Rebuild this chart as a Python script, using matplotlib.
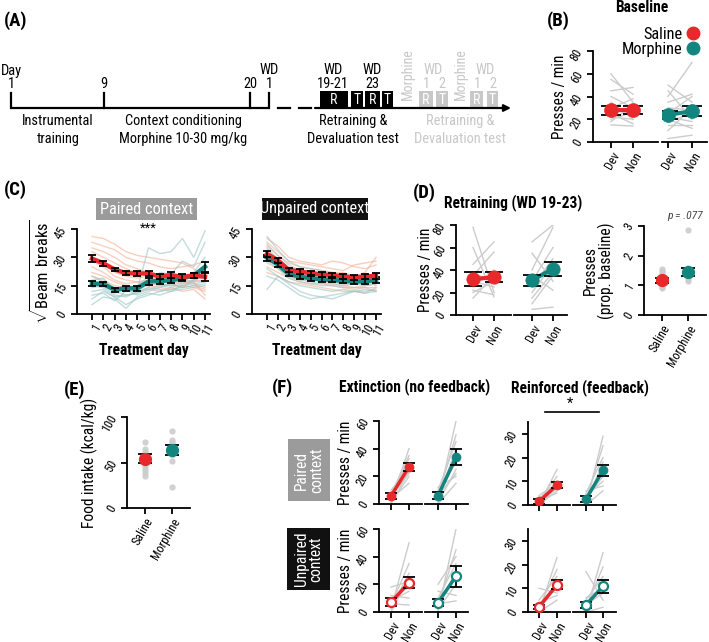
import matplotlib
matplotlib.use('Agg')
import matplotlib.pyplot as plt
from matplotlib import font_manager as fm
from matplotlib.patches import Rectangle
from matplotlib.lines import Line2D
import numpy as np


def has_font(name):
    try:
        fm.findfont(fm.FontProperties(family=name), fallback_to_default=False)
        return True
    except Exception:
        return False


FONT, S = 'Liberation Sans', 1.0
for cand in ['Liberation Sans Narrow', 'Arial Narrow', 'Roboto Condensed', 'Archivo Narrow']:
    if has_font(cand):
        FONT, S = cand, 1.18
        break

plt.rcParams['font.family'] = [FONT, 'Liberation Sans', 'DejaVu Sans']
plt.rcParams['mathtext.fontset'] = 'custom'
plt.rcParams['mathtext.rm'] = FONT
plt.rcParams['mathtext.bf'] = FONT + ':bold'
plt.rcParams['axes.linewidth'] = 1.3


def F(x):
    return x * S


RED = '#E8282B'
TEAL = '#13857F'
GREY = '#cccccc'
SALMON = '#f3a98c'
LTEAL = '#9cc5c6'

# ---------------- DATA ----------------
conds = ['Dev', 'Non']
groups = ['Saline', 'Morphine']

# (B) Baseline presses/min
b_sal_mean = [28, 28]
b_sal_sem = [4, 3.5]
b_mor_mean = [24, 27]
b_mor_sem = [3.5, 4.5]
b_sal_dev = [60, 55, 45, 40, 35, 30, 28, 25, 20, 15, 22, 18]
b_sal_non = [35, 42, 48, 30, 20, 38, 25, 16, 26, 14, 20, 32]
b_mor_dev = [50, 45, 40, 35, 30, 25, 22, 18, 15, 10, 3, 20]
b_mor_non = [35, 20, 70, 42, 28, 40, 18, 25, 15, 30, 6, 12]

# (C) Beam breaks (sqrt) over treatment days
days = list(range(1, 12))
c_pair_sal_mean = [29.3, 26.8, 23.6, 21.6, 21.5, 21.4, 19.9, 20.6, 19.6, 20.4, 19.7]
c_pair_sal_sem = [1.8, 1.5, 1.0, 1.2, 1.2, 1.3, 1.5, 1.4, 1.5, 1.2, 2.0]
c_pair_mor_mean = [16.2, 15.8, 12.9, 13.6, 13.6, 17.2, 17.5, 17.8, 19.0, 20.3, 25.0]
c_pair_mor_sem = [1.5, 1.2, 1.0, 1.2, 1.2, 1.8, 1.5, 1.5, 1.5, 1.3, 2.5]
c_unp_sal_mean = [31.8, 28.4, 23.4, 22.5, 21.6, 21.0, 20.6, 19.8, 19.4, 19.8, 20.2]
c_unp_sal_sem = [1.6, 1.4, 1.2, 1.2, 1.2, 1.2, 1.2, 1.2, 1.2, 1.2, 1.5]
c_unp_mor_mean = [29.8, 26.2, 21.2, 19.8, 18.9, 18.4, 18.0, 17.6, 17.2, 17.3, 18.0]
c_unp_mor_sem = [1.6, 1.5, 1.3, 1.3, 1.3, 1.3, 1.3, 1.3, 1.3, 1.3, 1.5]
c_pair_sal_ind = [
    [41, 40, 37, 33, 31, 30, 29, 28, 27, 24, 20],
    [38, 36, 34, 30, 28, 27, 25, 24, 25, 26, 28],
    [35, 33, 30, 26, 24, 22, 20, 18, 17, 16, 14],
    [33, 30, 27, 24, 22, 20, 21, 19, 18, 17, 10],
    [30, 28, 22, 20, 19, 20, 18, 17, 16, 18, 17],
    [28, 25, 20, 18, 17, 18, 16, 15, 15, 17, 22],
    [25, 22, 18, 16, 17, 16, 15, 16, 14, 15, 13],
    [22, 20, 17, 15, 14, 15, 14, 13, 15, 14, 12],
    [20, 18, 15, 14, 12, 13, 12, 14, 12, 13, 8],
]
c_pair_mor_ind = [
    [20, 17, 14, 12, 13, 35, 32, 33, 40, 30, 44],
    [18, 19, 12, 10, 11, 14, 22, 21, 28, 25, 38],
    [17, 16, 13, 14, 15, 20, 18, 20, 19, 22, 30],
    [15, 14, 10, 9, 12, 16, 16, 15, 17, 18, 25],
    [14, 15, 11, 13, 10, 12, 14, 16, 14, 18, 20],
    [12, 13, 9, 10, 11, 13, 15, 14, 16, 17, 18],
    [10, 11, 7, 12, 12, 14, 13, 12, 15, 16, 17],
    [8, 12, 9, 5, 8, 10, 12, 13, 14, 15, 16],
    [5, 9, 8, 3, 9, 11, 10, 12, 13, 14, 15],
]
c_unp_sal_ind = [
    [40, 36, 30, 28, 27, 26, 28, 27, 25, 24, 26],
    [38, 33, 28, 27, 26, 25, 24, 23, 26, 27, 28],
    [36, 31, 27, 25, 24, 23, 22, 22, 20, 22, 30],
    [34, 29, 24, 22, 23, 21, 20, 20, 19, 18, 20],
    [32, 27, 23, 21, 20, 20, 18, 18, 17, 19, 18],
    [30, 26, 22, 20, 19, 19, 17, 16, 16, 17, 15],
    [27, 24, 20, 18, 18, 17, 16, 15, 14, 15, 16],
    [25, 22, 19, 17, 16, 16, 15, 14, 13, 14, 12],
    [22, 20, 17, 16, 15, 14, 13, 12, 12, 11, 14],
]
c_unp_mor_ind = [
    [41, 34, 28, 25, 24, 23, 22, 21, 20, 20, 21],
    [37, 31, 26, 23, 22, 21, 20, 19, 18, 19, 20],
    [35, 29, 24, 21, 20, 19, 19, 18, 17, 17, 18],
    [32, 28, 22, 20, 18, 18, 17, 16, 16, 16, 17],
    [30, 26, 20, 18, 17, 16, 16, 15, 16, 15, 16],
    [28, 24, 19, 17, 16, 15, 15, 14, 14, 14, 14],
    [13, 20, 17, 15, 14, 13, 12, 13, 12, 13, 12],
    [24, 20, 16, 12, 10, 9, 10, 11, 12, 12, 13],
    [20, 18, 14, 10, 8, 9, 8, 10, 12, 11, 12],
]

# (D) Retraining presses/min
d_sal_mean = [32, 33.5]
d_sal_sem = [6, 4.5]
d_mor_mean = [31, 41]
d_mor_sem = [5, 6.5]
d_sal_dev = [78, 60, 45, 35, 30, 25, 20, 15, 22, 38]
d_sal_non = [20, 16, 65, 56, 25, 40, 30, 35, 18, 28]
d_mor_dev = [65, 55, 40, 30, 25, 20, 10, 5, 35, 15]
d_mor_non = [80, 30, 78, 60, 50, 45, 35, 7, 22, 38]
# (D) proportion of baseline
d_prop_mean = [1.17, 1.45]
d_prop_sem = [0.08, 0.12]
d_prop_sal = [0.9, 0.95, 1.0, 1.05, 1.1, 1.15, 1.2, 1.25, 1.3, 1.4, 1.5, 1.55]
d_prop_mor = [1.15, 1.2, 1.3, 1.35, 1.4, 1.45, 1.5, 1.6, 2.85]

# (E) Food intake
e_mean = [54, 64]
e_sem = [5, 5.5]
e_sal = [35, 38, 42, 45, 48, 50, 52, 55, 58, 62, 65, 72]
e_mor = [23, 52, 58, 62, 65, 68, 70, 72, 75, 85]

# (F) Devaluation tests: (means [Dev, Non], sems [Dev, Non])
f_ext_pair_sal = ([5.8, 26.8], [2.5, 2.6])
f_ext_pair_mor = ([6.0, 33.8], [2.5, 5.6])
f_rei_pair_sal = ([1.5, 8.4], [1.0, 1.4])
f_rei_pair_mor = ([2.5, 14.6], [1.3, 2.4])
f_ext_unp_sal = ([7.0, 21.3], [3.0, 4.0])
f_ext_unp_mor = ([6.8, 25.8], [2.7, 7.6])
f_rei_unp_sal = ([2.1, 11.5], [0.9, 1.9])
f_rei_unp_mor = ([3.0, 10.8], [1.4, 2.7])

f_ext_pair_sal_ind = ([2, 5, 8, 3, 10, 6, 1, 4, 0, 7], [40, 33, 30, 28, 25, 22, 20, 15, 24, 35])
f_ext_pair_mor_ind = ([2, 5, 10, 3, 8, 6, 1, 4, 12, 0], [60, 50, 45, 38, 30, 22, 25, 40, 20, 15])
f_rei_pair_sal_ind = ([0, 2, 1, 3, 0, 4, 1, 2], [15, 12, 10, 8, 6, 9, 7, 5])
f_rei_pair_mor_ind = ([0, 2, 5, 1, 3, 4, 2, 0, 6], [29, 25, 20, 18, 12, 10, 14, 6, 8])
f_ext_unp_sal_ind = ([2, 5, 18, 10, 8, 3, 12, 0, 6], [50, 35, 22, 18, 15, 28, 10, 25, 5])
f_ext_unp_mor_ind = ([0, 5, 20, 10, 8, 3, 15, 2, 6], [60, 45, 40, 35, 25, 30, 12, 20, 8])
f_rei_unp_sal_ind = ([0, 2, 10, 5, 1, 3, 0, 4], [23, 18, 8, 15, 12, 10, 5, 7])
f_rei_unp_mor_ind = ([0, 17, 2, 5, 1, 3, 0, 6], [25, 5, 19, 15, 12, 8, 2, 10])

# ---------------- LAYOUT ----------------
W, H = 709, 642
fig = plt.figure(figsize=(W / 100, H / 100), dpi=100)

TICK_FS = F(7.5)
LAB_FS = F(9.5)


def rect(x0, x1, ytop, ybot):
    return [x0 / W, 1 - ybot / H, (x1 - x0) / W, (ybot - ytop) / H]


def xlim_from(x0, x1, p0, p1, v0=0, v1=1):
    s = (p1 - p0) / (v1 - v0)
    return (v0 - (p0 - x0) / s, v0 + (x1 - p0) / s)


def style(ax, left=True, ylim=None, yticks=None):
    for s in ['top', 'right']:
        ax.spines[s].set_visible(False)
    ax.patch.set_alpha(0)
    ax.tick_params(direction='out', length=4, width=1.3, labelsize=TICK_FS, pad=1.5)
    ax.tick_params(axis='y', labelrotation=60)
    if ylim is not None:
        ax.set_ylim(*ylim)
        ax.spines['left'].set_bounds(*ylim)
    if yticks is not None:
        ax.set_yticks(yticks)
    if not left:
        ax.spines['left'].set_visible(False)
        ax.tick_params(axis='y', left=False, labelleft=False)


def xrot(ax, labels, show=True):
    ax.set_xticks(range(len(labels)))
    if show:
        ax.set_xticklabels(labels, rotation=60, ha='right', rotation_mode='anchor', fontsize=TICK_FS)
    else:
        ax.set_xticklabels([])


def ylab(ax, text, x_px, axrect_px, fs=None):
    x0, x1 = axrect_px
    ax.set_ylabel(text, fontsize=fs or LAB_FS, linespacing=1.0)
    ax.yaxis.set_label_coords((x_px - x0) / (x1 - x0), 0.5)


def paired(ax, dev, non, mean, sem, color, ms, cap, open_=False, lw=3):
    for d, n in zip(dev, non):
        ax.plot([0, 1], [d, n], color=GREY, lw=1, zorder=1)
    ax.plot([0, 1], mean, color=color, lw=lw, zorder=2, solid_capstyle='butt')
    ax.errorbar([0, 1], mean, yerr=sem, fmt='none', ecolor='black', elinewidth=1.3,
                capsize=cap, capthick=1.3, zorder=3)
    ax.plot([0, 1], mean, 'o', ms=ms, mfc='white' if open_ else color, mec=color,
            mew=1.6 if open_ else 0.5, zorder=4)


def scatter_group(ax, vals_list, means, sems, ms=8.5, cap=4.8):
    for i, vals in enumerate(vals_list):
        ax.plot([i] * len(vals), vals, 'o', color=GREY, ms=4.5, alpha=0.9, mew=0, zorder=1)
    ax.errorbar([0, 1], means, yerr=sems, fmt='none', ecolor='black', elinewidth=1.3,
                capsize=cap, capthick=1.3, zorder=3)
    for i, c in enumerate([RED, TEAL]):
        ax.plot([i], [means[i]], 'o', ms=ms, color=c, zorder=4)


# ---- (B) ----
bL = (593, 658); bR = (662, 707)
axB1 = fig.add_axes(rect(bL[0], bL[1], 51, 142))
axB2 = fig.add_axes(rect(bR[0], bR[1], 51, 142))
paired(axB1, b_sal_dev, b_sal_non, b_sal_mean, b_sal_sem, RED, 10, 7)
paired(axB2, b_mor_dev, b_mor_non, b_mor_mean, b_mor_sem, TEAL, 10, 7)
style(axB1, True, (0, 80), [0, 20, 40, 60, 80])
style(axB2, False, (0, 80))
axB1.set_xlim(*xlim_from(bL[0], bL[1], 611, 633))
axB2.set_xlim(*xlim_from(bR[0], bR[1], 668, 692))
xrot(axB1, conds); xrot(axB2, conds)
ylab(axB1, 'Presses / min', 567, bL)
fig.legend(handles=[Line2D([], [], ls='none', marker='o', ms=9, color=RED),
                    Line2D([], [], ls='none', marker='o', ms=9, color=TEAL)],
           labels=groups, markerfirst=False, frameon=False, fontsize=F(10),
           loc='upper right', bbox_to_anchor=(1.0, 1 - 19 / H), handletextpad=0.1,
           labelspacing=0.0, borderpad=0, handlelength=1.0)

# ---- (C) ----
cL = (77, 210); cR = (252, 381)
axC1 = fig.add_axes(rect(cL[0], cL[1], 229, 314))
axC2 = fig.add_axes(rect(cR[0], cR[1], 229, 314))
for ax, sal_ind, mor_ind, sm, ss, mm, msem, xr, p in [
        (axC1, c_pair_sal_ind, c_pair_mor_ind, c_pair_sal_mean, c_pair_sal_sem,
         c_pair_mor_mean, c_pair_mor_sem, cL, (92, 205)),
        (axC2, c_unp_sal_ind, c_unp_mor_ind, c_unp_sal_mean, c_unp_sal_sem,
         c_unp_mor_mean, c_unp_mor_sem, cR, (267, 376))]:
    for row in sal_ind:
        ax.plot(days, row, color=SALMON, lw=1, alpha=0.55, zorder=1)
    for row in mor_ind:
        ax.plot(days, row, color=LTEAL, lw=1, alpha=0.6, zorder=1)
    ax.plot(days, mm, color=TEAL, lw=3.2, zorder=2)
    ax.errorbar(days, mm, yerr=msem, fmt='none', ecolor='black', elinewidth=1.1,
                capsize=3.2, capthick=1.3, zorder=3)
    ax.plot(days, sm, color=RED, lw=3.2, zorder=4)
    ax.errorbar(days, sm, yerr=ss, fmt='none', ecolor='black', elinewidth=1.1,
                capsize=3.2, capthick=1.3, zorder=5)
    style(ax, True, (0, 45), [0, 15, 30, 45])
    ax.set_xlim(*xlim_from(xr[0], xr[1], p[0], p[1], 1, 11))
    ax.set_xticks(days)
    ax.set_xticklabels([str(d) for d in days], rotation=60, ha='right',
                       rotation_mode='anchor', fontsize=TICK_FS)
    ax.set_xlabel('Treatment day', fontsize=LAB_FS, fontweight='bold')
    ax.xaxis.set_label_coords(0.5, -(343 - 314) / 85)
axC1.text(6, 45.5, '***', ha='center', va='center', fontsize=F(8))
ylab(axC1, r'$\sqrt{\mathrm{Beam\ breaks}}$', 52, cL, fs=F(10))

# ---- (D) ----
dL = (456, 511); dR = (514, 567)
axD1 = fig.add_axes(rect(dL[0], dL[1], 225, 315))
axD2 = fig.add_axes(rect(dR[0], dR[1], 225, 315))
paired(axD1, d_sal_dev, d_sal_non, d_sal_mean, d_sal_sem, RED, 9.6, 6.2)
paired(axD2, d_mor_dev, d_mor_non, d_mor_mean, d_mor_sem, TEAL, 9.6, 6.2)
style(axD1, True, (0, 80), [0, 20, 40, 60, 80])
style(axD2, False, (0, 80))
axD1.set_xlim(*xlim_from(dL[0], dL[1], 473, 494))
axD2.set_xlim(*xlim_from(dR[0], dR[1], 532, 553))
xrot(axD1, conds); xrot(axD2, conds)
ylab(axD1, 'Presses / min', 433, dL)

dP = (644, 706)
axD3 = fig.add_axes(rect(dP[0], dP[1], 226, 315))
scatter_group(axD3, [d_prop_sal, d_prop_mor], d_prop_mean, d_prop_sem)
style(axD3, True, (0, 3), [0, 1, 2, 3])
axD3.set_xlim(*xlim_from(dP[0], dP[1], 662, 688))
xrot(axD3, groups)
ylab(axD3, 'Presses\n(prop. baseline)', 615, dP)
axD3.text(0.66, 1.11, 'p = .077', transform=axD3.transAxes, ha='center', va='center',
          fontsize=F(7), style='italic', color='#444444')

# ---- (E) ----
eX = (127, 190)
axE = fig.add_axes(rect(eX[0], eX[1], 417, 508))
scatter_group(axE, [e_sal, e_mor], e_mean, e_sem)
style(axE, True, (0, 100), [0, 50, 100])
axE.set_xlim(*xlim_from(eX[0], eX[1], 145, 172))
xrot(axE, groups)
ylab(axE, 'Food intake (kcal/kg)', 98, eX)

# ---- (F) ----
fA = (379, 422); fB = (425, 468); fC = (528, 570); fD = (573, 616)
rows = [(421, 504, 422, 505), (529, 612, 529, 612)]
fdata = [
    [(f_ext_pair_sal_ind, f_ext_pair_sal, f_ext_pair_mor_ind, f_ext_pair_mor),
     (f_rei_pair_sal_ind, f_rei_pair_sal, f_rei_pair_mor_ind, f_rei_pair_mor)],
    [(f_ext_unp_sal_ind, f_ext_unp_sal, f_ext_unp_mor_ind, f_ext_unp_mor),
     (f_rei_unp_sal_ind, f_rei_unp_sal, f_rei_unp_mor_ind, f_rei_unp_mor)],
]
for r, (lt, lb, rt, rb) in enumerate(rows):
    open_ = (r == 1)
    show = (r == 1)
    for c, (xs, ticks, ylim, yt, yb) in enumerate([
            ((fA, fB), ((391, 409), (438, 456)), (0, 60), lt, lb),
            ((fC, fD), ((539, 557), (586, 603)), (0, 35), rt, rb)]):
        si, sm, mi, mm = fdata[r][c]
        ax1 = fig.add_axes(rect(xs[0][0], xs[0][1], yt, yb))
        ax2 = fig.add_axes(rect(xs[1][0], xs[1][1], yt, yb))
        paired(ax1, si[0], si[1], sm[0], sm[1], RED, 6.5, 4.3, open_, lw=2.5)
        paired(ax2, mi[0], mi[1], mm[0], mm[1], TEAL, 6.5, 4.3, open_, lw=2.5)
        if c == 0:
            style(ax1, True, ylim, [0, 20, 40, 60])
            ylab(ax1, 'Presses / min', 353, xs[0])
        else:
            style(ax1, True, ylim, [0, 10, 20, 30])
        style(ax2, False, ylim)
        ax1.set_xlim(*xlim_from(xs[0][0], xs[0][1], ticks[0][0], ticks[0][1]))
        ax2.set_xlim(*xlim_from(xs[1][0], xs[1][1], ticks[1][0], ticks[1][1]))
        xrot(ax1, conds, show); xrot(ax2, conds, show)

# ---------------- OVERLAY (schematic & labels) ----------------
ov = fig.add_axes([0, 0, 1, 1])
ov.set_xlim(0, W); ov.set_ylim(H, 0); ov.axis('off'); ov.set_zorder(10)

for lab, (x, y) in {'(A)': (4, 21), '(B)': (547, 21), '(C)': (4, 190),
                    '(D)': (413, 193), '(E)': (64, 390), '(F)': (272, 388)}.items():
    ov.text(x, y, lab, fontsize=F(11.5), fontweight='bold', va='center', ha='left')

ov.text(642, 8, 'Baseline', fontsize=F(9.5), fontweight='bold', ha='center', va='center')

# Timeline
LG = '#c8c8c8'
ty = 108
ov.plot([11, 269], [ty, ty], color='k', lw=1.6, solid_capstyle='butt')
for x in [11, 104, 250, 269]:
    ov.plot([x, x], [93, ty], color='k', lw=1.6)
for a, b in [(278, 290), (299, 311)]:
    ov.plot([a, b], [ty, ty], color='k', lw=1.6)
ov.annotate('', xy=(511, ty), xytext=(315, ty),
            arrowprops=dict(arrowstyle='-|>', lw=1.6, color='k', mutation_scale=10,
                            shrinkA=0, shrinkB=0))
tl_fs = F(8.8)
y1, y2 = 70.5, 84.5
ov.text(1, y1, 'Day', fontsize=tl_fs, ha='left', va='center')
for lab, x in [('1', 11), ('9', 104), ('20', 250), ('1', 269)]:
    ov.text(x, y2, lab, fontsize=tl_fs, ha='center', va='center')
ov.text(269, y1, 'WD', fontsize=tl_fs, ha='center', va='center')
ov.text(333, y1, 'WD', fontsize=tl_fs, ha='center', va='center')
ov.text(333, y2, '19-21', fontsize=tl_fs, ha='center', va='center')
ov.text(372, y1, 'WD', fontsize=tl_fs, ha='center', va='center')
ov.text(372, y2, '23', fontsize=tl_fs, ha='center', va='center')
for (a, b, lab) in [(320, 348, 'R'), (351, 363, 'T'), (365, 380, 'R'), (382, 393, 'T')]:
    ov.add_patch(Rectangle((a, 91), b - a, ty - 91, color='black', lw=0))
    ov.text((a + b) / 2, 100, lab, color='white', fontsize=F(8.5), ha='center', va='center')
for (a, b, lab) in [(419, 433, 'R'), (436, 448, 'T'), (470, 483, 'R'), (487, 498, 'T')]:
    ov.add_patch(Rectangle((a, 91), b - a, ty - 91, color=LG, lw=0))
    ov.text((a + b) / 2, 100, lab, color='white', fontsize=F(8.5), ha='center', va='center')
for x in [408, 461]:
    ov.text(x, 74, 'Morphine', rotation=90, fontsize=F(8.5), color=LG, ha='center', va='center')
for x, x1, x2 in [(433, 426, 442), (485, 477, 493)]:
    ov.text(x, y1, 'WD', fontsize=tl_fs, color=LG, ha='center', va='center')
    ov.text(x1, y2, '1', fontsize=tl_fs, color=LG, ha='center', va='center')
    ov.text(x2, y2, '2', fontsize=tl_fs, color=LG, ha='center', va='center')
for x, l1, l2, col in [(58, 'Instrumental', 'training', 'k'),
                       (183, 'Context conditioning', 'Morphine 10-30 mg/kg', 'k'),
                       (353, 'Retraining &', 'Devaluation test', 'k'),
                       (460, 'Retraining &', 'Devaluation test', LG)]:
    ov.text(x, 121, l1, fontsize=tl_fs, ha='center', va='center', color=col)
    ov.text(x, 139, l2, fontsize=tl_fs, ha='center', va='center', color=col)

# C title boxes
ov.add_patch(Rectangle((96, 198), 101, 22, color='#9b9b9b', lw=0))
ov.text(146.5, 209, 'Paired context', color='white', fontsize=F(10), ha='center', va='center')
ov.add_patch(Rectangle((262, 198), 106, 22, color='#111111', lw=0))
ov.text(315, 209, 'Unpaired context', color='white', fontsize=F(10), ha='center', va='center')

# D / F titles
ov.text(513, 203, 'Retraining (WD 19-23)', fontsize=F(9.5), fontweight='bold', ha='center', va='center')
ov.text(415, 387, 'Extinction (no feedback)', fontsize=F(9.5), fontweight='bold', ha='center', va='center')
ov.text(580, 388, 'Reinforced (feedback)', fontsize=F(9.5), fontweight='bold', ha='center', va='center')
ov.text(570, 404, '*', fontsize=F(9), ha='center', va='center')
ov.plot([545, 599], [412, 412], color='k', lw=1.2)

# F row boxes
ov.add_patch(Rectangle((288, 439), 42, 62, color='#9b9b9b', lw=0))
ov.text(309, 470, 'Paired\ncontext', rotation=90, color='white', fontsize=F(9.5),
        ha='center', va='center', linespacing=1.0)
ov.add_patch(Rectangle((287, 528), 43, 62, color='#111111', lw=0))
ov.text(308.5, 559, 'Unpaired\ncontext', rotation=90, color='white', fontsize=F(9.5),
        ha='center', va='center', linespacing=1.0)

fig.savefig('out.png', dpi=100)
